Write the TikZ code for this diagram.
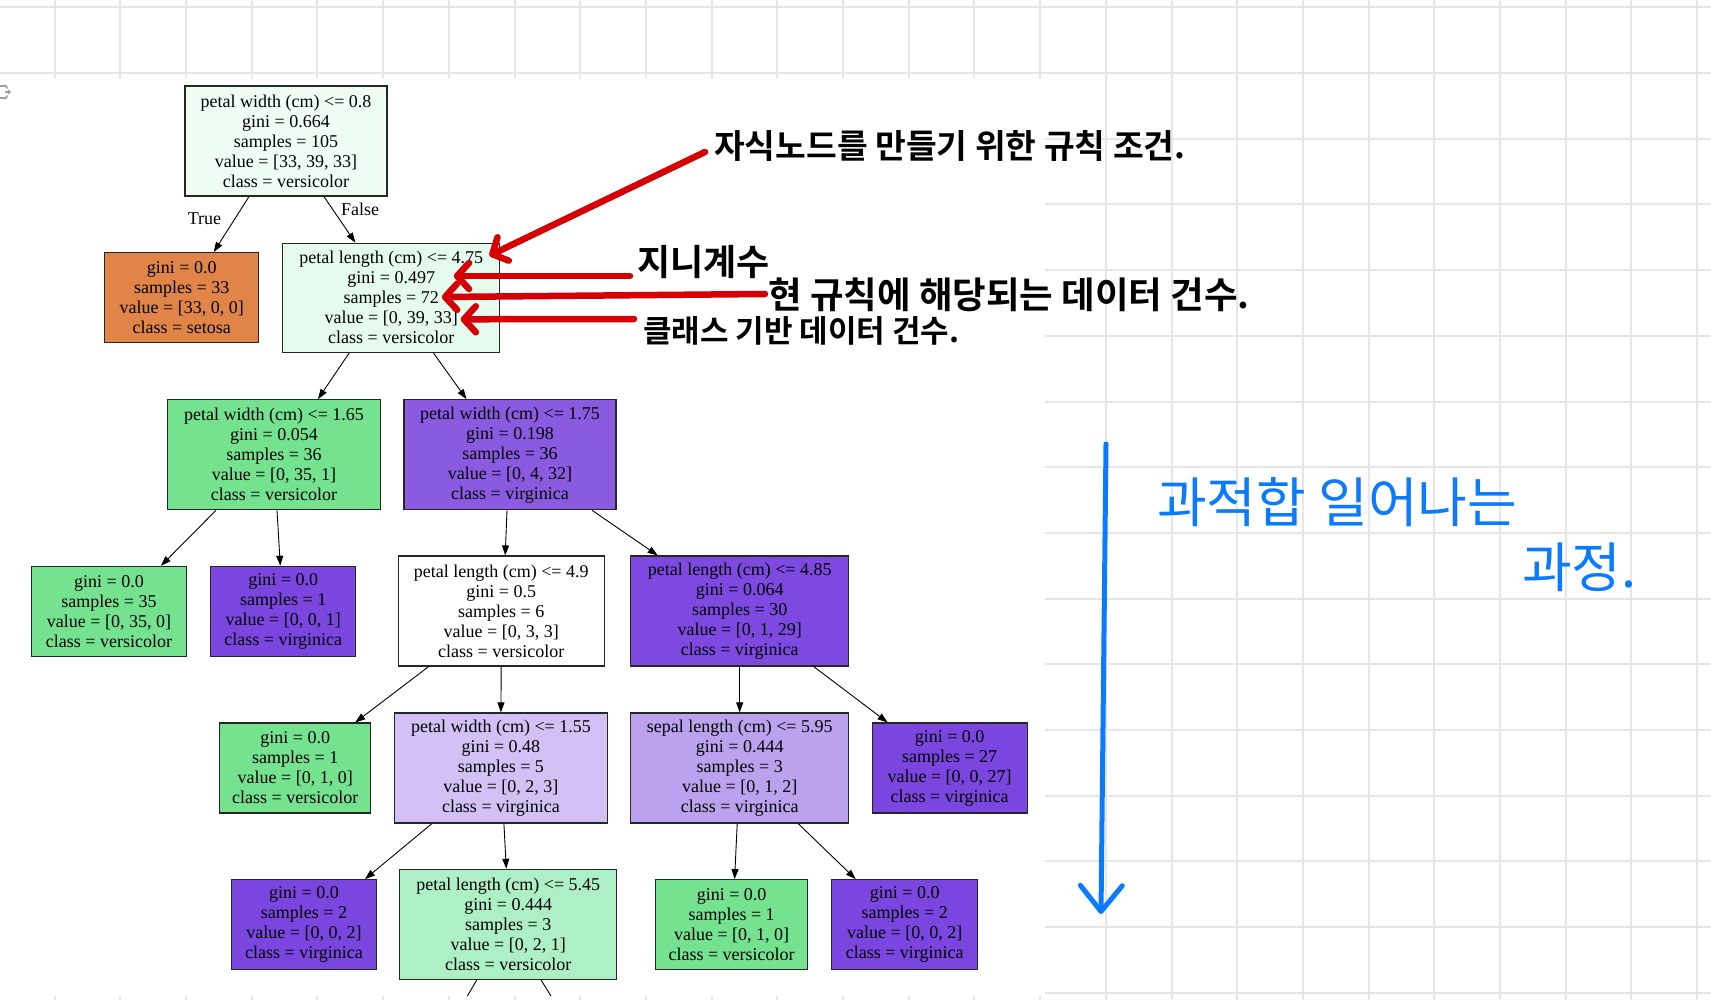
\documentclass[tikz,border=0pt]{standalone}
\usepackage{fontspec}
\setmainfont{Liberation Serif}
\newfontfamily\kofont[BoldFont={Noto Sans CJK KR Bold}]{Noto Sans CJK KR}
\usepackage{xcolor}
\usepackage{tikz}
\usetikzlibrary{arrows.meta,positioning,calc}

\definecolor{gridgray}{HTML}{E6E6E6}
\definecolor{cRoot}{HTML}{F0FDF5}
\definecolor{cN1}{HTML}{E4FBEE}
\definecolor{cSetosa}{HTML}{E08547}
\definecolor{cGreen}{HTML}{74E28E}
\definecolor{cPurple}{HTML}{7B45DF}
\definecolor{cPurB}{HTML}{8A5AE1}
\definecolor{cPurD}{HTML}{7D49E0}
\definecolor{cE}{HTML}{D3C1F5}
\definecolor{cF}{HTML}{BBA2EE}
\definecolor{cG}{HTML}{ADF0C6}
\definecolor{penred}{HTML}{D40003}
\definecolor{penblue}{HTML}{0A7BFF}

\newcommand{\treefont}{\fontsize{18}{20}\selectfont}

\begin{document}
\begin{tikzpicture}[
  x=1pt, y=-1pt,
  % tree boxes: 5-line split nodes and 4-line leaves
  tn/.style={rectangle, draw=black!85, line width=1.2pt, align=center,
             font=\treefont, inner sep=0pt, minimum height=110pt},
  lf/.style={tn, minimum height=90pt},
  edge/.style={-{Triangle[length=10pt,width=7pt]}, line width=0.9pt},
  gridline/.style={draw=gridgray, line width=2pt},
  redarr/.style={draw=penred, line width=6.5pt, line cap=round,
                 -{Straight Barb[length=12pt,width=26pt,line cap=round,line join=round]}},
  bluearr/.style={draw=penblue, line width=5pt, line cap=round,
                  -{Straight Barb[length=26pt,width=42pt,line cap=round,line join=round]}},
  hand/.style={font=\kofont\bfseries\fontsize{#1}{#1}\selectfont,
               inner sep=0pt, anchor=west},
  bluehand/.style={font=\kofont\fontsize{#1}{#1}\selectfont, text=penblue,
                   inner sep=0pt, anchor=west},
]
\useasboundingbox (0,0) rectangle (1711,1000);

%% ── Grid paper ────────────────────────────────────────────────────
\foreach \k in {0,...,25}
  \draw[gridline] (54.6+65.7*\k,0) -- (54.6+65.7*\k,1000);
\foreach \k in {0,...,15}
  \draw[gridline] (0,7.3+65.7*\k) -- (1711,7.3+65.7*\k);

%% ── Pasted tree image ─────────────────────────────────────────────
\fill[white] (0,79) rectangle (1045,996);
\draw[gray!75, line width=1.6pt] (0,86) -- (6,86) -- (7.5,88.5);
\draw[gray!75, line width=1.6pt] (0,98) -- (6,98) -- (7.5,95.5);
\draw[gray!75, line width=1.4pt, -{Straight Barb[length=2pt,width=4pt]}] (5,92) -- (11,92);

%% ── Level 0/1 ─────────────────────────────────────────────────────
\node[tn, fill=cRoot, minimum width=202pt] (root) at (286,141)
  {petal width (cm) <= 0.8\\gini = 0.664\\samples = 105\\value = [33, 39, 33]\\class = versicolor};
\node[lf, fill=cSetosa, minimum width=154pt] (setosa) at (181.7,297.7)
  {gini = 0.0\\samples = 33\\value = [33, 0, 0]\\class = setosa};
\node[tn, fill=cN1, minimum width=217pt, minimum height=109pt] (n1) at (391.3,297.7)
  {petal length (cm) <= 4.75\\gini = 0.497\\samples = 72\\value = [0, 39, 33]\\class = versicolor};

%% ── Level 2 ───────────────────────────────────────────────────────
\node[tn, fill=cGreen, minimum width=213pt] (pw165) at (274,454.7)
  {petal width (cm) <= 1.65\\gini = 0.054\\samples = 36\\value = [0, 35, 1]\\class = versicolor};
\node[tn, fill=cPurB, minimum width=212pt] (pw175) at (510,454.7)
  {petal width (cm) <= 1.75\\gini = 0.198\\samples = 36\\value = [0, 4, 32]\\class = virginica};

%% ── Level 3 ───────────────────────────────────────────────────────
\node[lf, fill=cGreen, minimum width=155pt] (l35) at (109,611.3)
  {gini = 0.0\\samples = 35\\value = [0, 35, 0]\\class = versicolor};
\node[lf, fill=cPurple, minimum width=145pt] (l1v) at (283.3,611.3)
  {gini = 0.0\\samples = 1\\value = [0, 0, 1]\\class = virginica};
\node[tn, fill=white, minimum width=206pt] (pl49) at (501.2,611)
  {petal length (cm) <= 4.9\\gini = 0.5\\samples = 6\\value = [0, 3, 3]\\class = versicolor};
\node[tn, fill=cPurD, minimum width=218pt] (pl485) at (739.7,611)
  {petal length (cm) <= 4.85\\gini = 0.064\\samples = 30\\value = [0, 1, 29]\\class = virginica};

%% ── Level 4 ───────────────────────────────────────────────────────
\node[lf, fill=cGreen, minimum width=151pt] (l1c) at (295.3,768)
  {gini = 0.0\\samples = 1\\value = [0, 1, 0]\\class = versicolor};
\node[tn, fill=cE, minimum width=213pt] (pw155) at (500.9,768)
  {petal width (cm) <= 1.55\\gini = 0.48\\samples = 5\\value = [0, 2, 3]\\class = virginica};
\node[tn, fill=cF, minimum width=218pt] (sl595) at (739.7,768)
  {sepal length (cm) <= 5.95\\gini = 0.444\\samples = 3\\value = [0, 1, 2]\\class = virginica};
\node[lf, fill=cPurple, minimum width=155pt] (l27) at (949.6,768)
  {gini = 0.0\\samples = 27\\value = [0, 0, 27]\\class = virginica};

%% ── Level 5 ───────────────────────────────────────────────────────
\node[lf, fill=cPurple, minimum width=145pt] (l2a) at (304,924.7)
  {gini = 0.0\\samples = 2\\value = [0, 0, 2]\\class = virginica};
\node[tn, fill=cG, minimum width=217pt] (pl545) at (508.3,924.3)
  {petal length (cm) <= 5.45\\gini = 0.444\\samples = 3\\value = [0, 2, 1]\\class = versicolor};
\node[lf, fill=cGreen, minimum width=152pt] (l1d) at (731.6,924.7)
  {gini = 0.0\\samples = 1\\value = [0, 1, 0]\\class = versicolor};
\node[lf, fill=cPurple, minimum width=146pt] (l2b) at (904.7,924.7)
  {gini = 0.0\\samples = 2\\value = [0, 0, 2]\\class = virginica};

%% ── Tree edges (parent/child/offset at parent/offset at child) ────
\foreach \p/\c/\a/\b in {root/setosa/-37/32, root/n1/38/-36,
                         n1/pw165/-42/44, n1/pw175/42/-43.5,
                         pw165/l35/-58/52, pw165/l1v/3/-3,
                         pw175/pl49/-3/4, pw175/pl485/82/-82,
                         pl49/l1c/-72.6/60, pl49/pw155/0/0,
                         pl485/sl595/0/0, pl485/l27/74/-62,
                         pw155/l2a/-69/61, pw155/pl545/3/-2,
                         sl595/l1d/-2.5/3, sl595/l2b/58.5/-49}
  \draw[edge] ($(\p.south)+(\a,0)$) -- ($(\c.north)+(\b,0)$);

% edges leaving the cropped image
\coordinate (cutL) at (467.4,996);
\coordinate (cutR) at (551,996);
\draw[line width=0.9pt] ($(pl545.south)+(-31.5,0)$) -- (cutL);
\draw[line width=0.9pt] ($(pl545.south)+(32.7,0)$) -- (cutR);

\node[font=\treefont] (tTrue) at (204.5,219) {True};
\node[font=\treefont] (tFalse) at (360,209) {False};

%% ── Handwritten notes (red) ───────────────────────────────────────
\node[hand=33.4] (rule) at (714,146) {자식노드를 만들기 위한 규칙 조건.};
\node[hand=36] (gini) at (637,262) {지니계수};
\node[hand=36.5] (cnt) at (768,295) {현 규칙에 해당되는 데이터 건수.};
\node[hand=31] (cls) at (643,331) {클래스 기반 데이터 건수.};

\draw[redarr] ($(rule.west)+(-9,6)$) -- ($(n1.north east)+(-11,13)$);
\draw[redarr] ($(gini.west)+(-7,14)$) -- ($(n1.east)+(-46.6,-21.7)$);
\draw[redarr] ($(cnt.west)+(-3,-1)$) -- ($(n1.east)+(-58.6,-0.7)$);
\draw[redarr] ($(cls.west)+(-9,-12)$) -- ($(n1.east)+(-39.8,21.6)$);

%% ── Overfitting arrow (blue) ──────────────────────────────────────
\coordinate (ovTop) at (1106,444);
\coordinate (ovEnd) at (1101,914);
\draw[bluearr] (ovTop) -- (ovEnd);
\node[bluehand=54] (ovTxt) at (1157,502) {과적합 일어나는};
\node[bluehand=54] (ovTxt2) at (1522,567) {과정.};

\end{tikzpicture}
\end{document}
